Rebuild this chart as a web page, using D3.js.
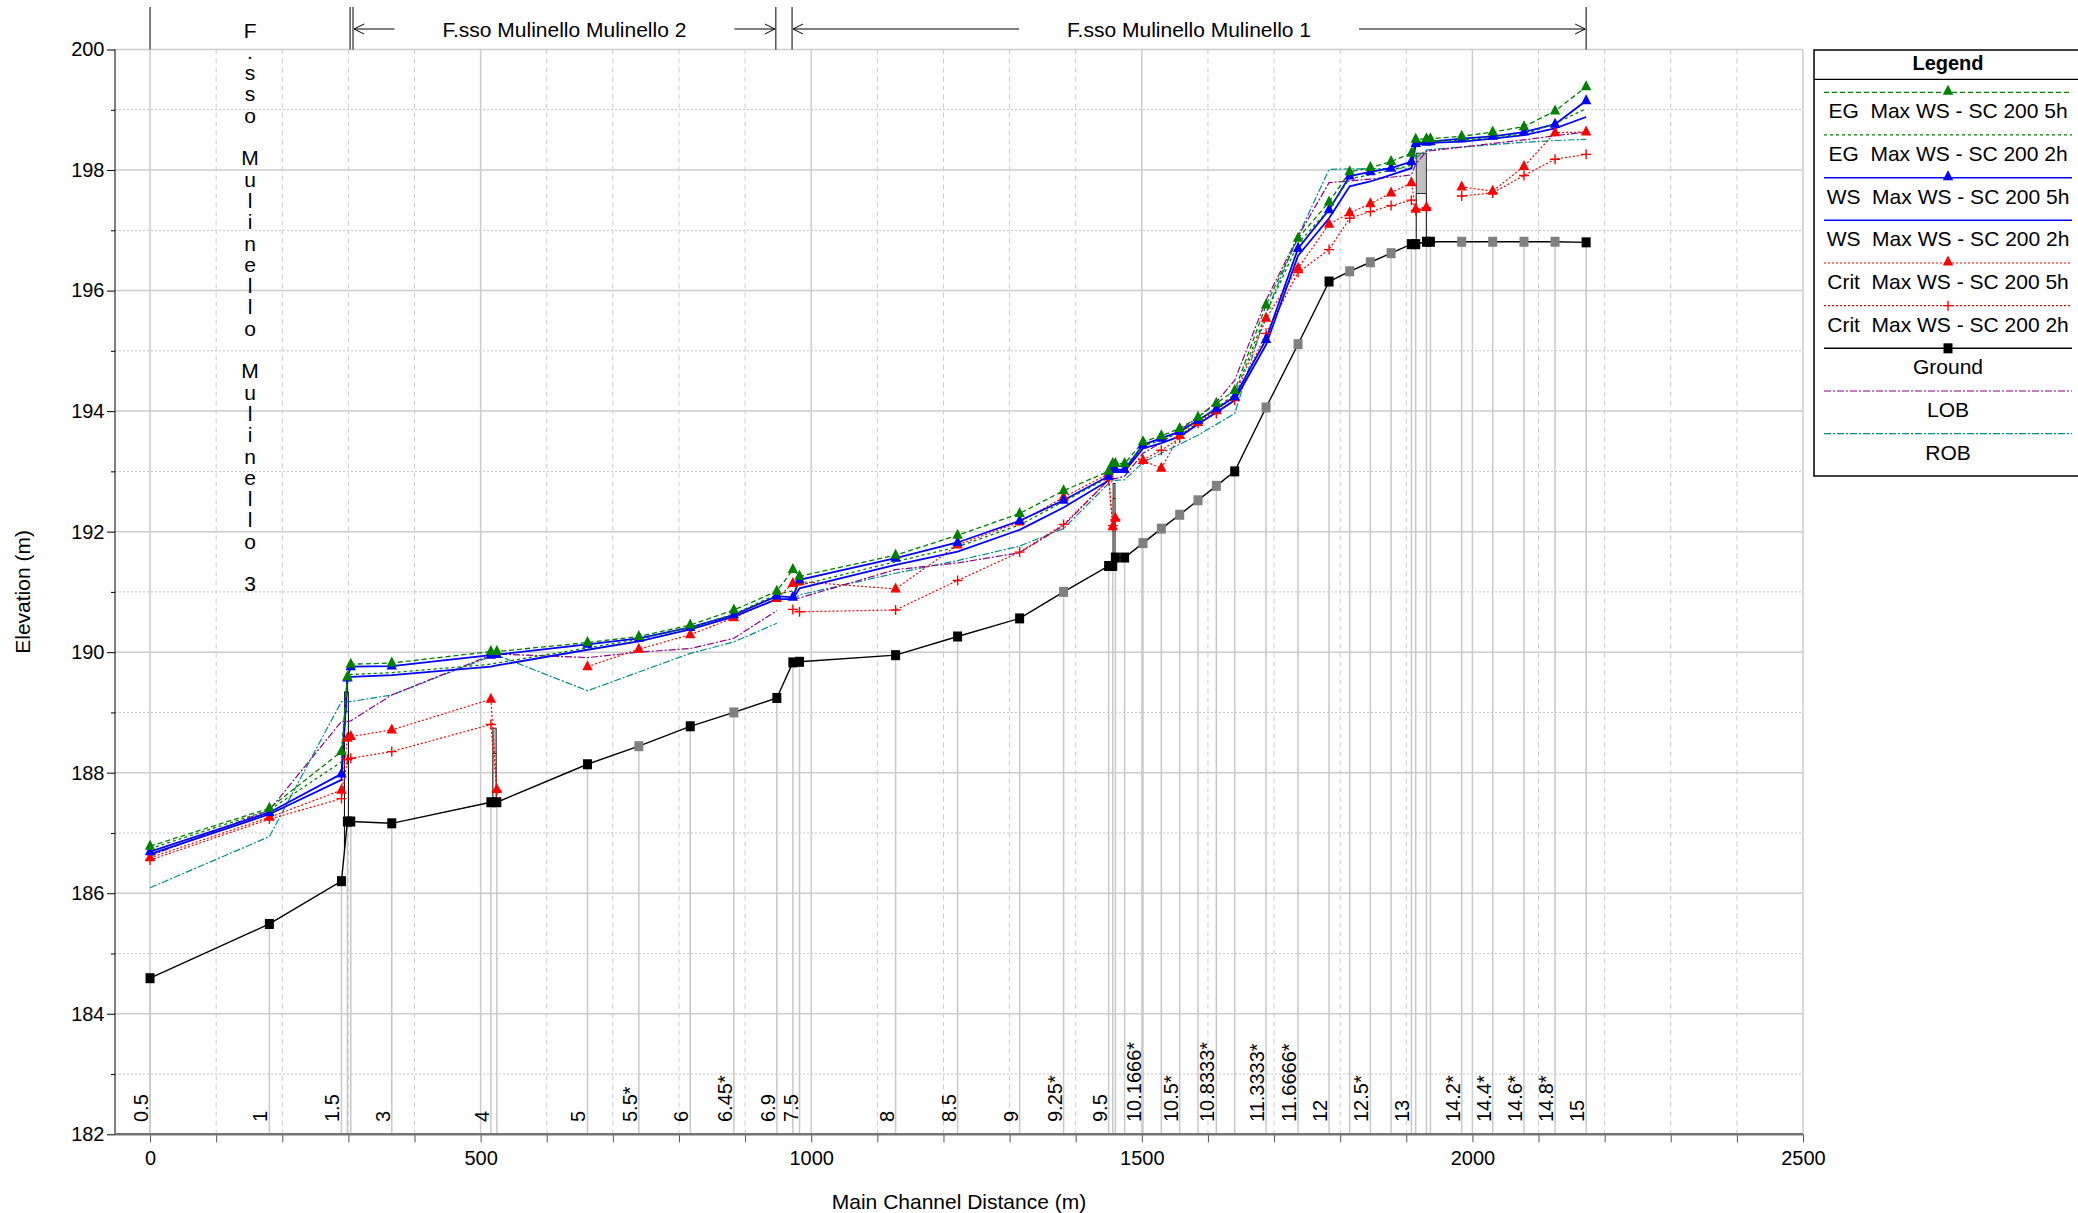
<!DOCTYPE html>
<html>
<head>
<meta charset="utf-8">
<script src="https://cdn.jsdelivr.net/npm/d3@7"></script>
<style>
  body { margin: 0; background: #fff; }
  text { font-family: "Liberation Sans", Arial, sans-serif; fill: #000; }
</style>
</head>
<body>
<div id="my_dataviz"></div>
<script>
// cross sections (main channel distance, m) and the ground profile
var stations = [0, 180.5, 289.5, 298.5, 303.6, 365.6, 515.5, 524.5, 661.6, 739.3,
  817, 883, 948, 972.2, 982.3, 1127.6, 1221.4, 1315.2, 1381.7, 1449.8,
  1456, 1460, 1474, 1501.8, 1529.5, 1557.3, 1585, 1612.7, 1640.5, 1687.9,
  1736.3, 1783.2, 1814.4, 1845.7, 1877, 1907.7, 1914.3, 1930.5, 1936.5, 1983.8,
  2030.7, 2078, 2125, 2172];
var ground = [184.59, 185.49, 186.20, 187.19, 187.19, 187.16, 187.51, 187.51, 188.14, 188.44,
  188.77, 189.00, 189.24, 189.83, 189.84, 189.95, 190.26, 190.56, 191.00, 191.43,
  191.43, 191.57, 191.57, 191.81, 192.05, 192.28, 192.52, 192.76, 193.00, 194.06,
  195.11, 196.15, 196.32, 196.47, 196.62, 196.77, 196.77, 196.81, 196.81, 196.81,
  196.81, 196.81, 196.81, 196.80];
// 1 = interpolated section (grey marker)
var interpolated = [0, 0, 0, 0, 0, 0, 0, 0, 0, 1,
  0, 1, 0, 0, 0, 0, 0, 0, 1, 0,
  0, 0, 0, 1, 1, 1, 1, 1, 0, 1,
  1, 0, 1, 1, 1, 0, 0, 0, 0, 1,
  1, 1, 1, 0];

// profiles
var eg5h = [186.78, 187.41, 188.35, 189.59, 189.80, 189.82, 190.01, 190.01, 190.16, 190.26,
  190.45, 190.70, 191.01, 191.37, 191.26, 191.61, 191.94, 192.30, 192.68, 193.00,
  193.13, 193.13, 193.13, 193.49, 193.59, 193.71, 193.90, 194.13, 194.34, 195.76,
  196.87, 197.47, 197.97, 198.04, 198.14, 198.28, 198.51, 198.52, 198.52, 198.56,
  198.63, 198.72, 198.98, 199.38];
var eg2h = [186.74, 187.38, 188.18, 189.57, 189.63, 189.66, 189.80, 189.82, 190.07, 190.21,
  190.41, 190.63, 190.96, 191.02, 191.11, 191.50, 191.75, 192.11, 192.50, 192.90,
  193.05, 193.08, 193.08, 193.42, 193.52, 193.64, 193.84, 194.05, 194.28, 195.62,
  196.78, 197.35, 197.86, 197.92, 198.00, 198.08, 198.47, 198.48, 198.48, 198.49,
  198.55, 198.59, 198.77, 199.02];
var ws5h = [186.69, 187.34, 187.98, 189.57, 189.76, 189.77, 189.95, 189.96, 190.13, 190.23,
  190.41, 190.62, 190.93, 190.91, 191.20, 191.56, 191.82, 192.18, 192.52, 192.92,
  193.03, 193.03, 193.03, 193.44, 193.55, 193.66, 193.85, 194.04, 194.24, 195.19,
  196.70, 197.34, 197.90, 197.97, 198.03, 198.14, 198.44, 198.46, 198.47, 198.52,
  198.56, 198.63, 198.76, 199.15];
var ws2h = [186.65, 187.31, 187.88, 189.55, 189.59, 189.62, 189.76, 189.78, 190.04, 190.18,
  190.38, 190.59, 190.88, 190.88, 191.06, 191.45, 191.67, 192.03, 192.40, 192.85,
  192.98, 193.00, 193.00, 193.38, 193.47, 193.58, 193.78, 193.98, 194.18, 195.10,
  196.58, 197.20, 197.73, 197.81, 197.92, 198.03, 198.42, 198.44, 198.45, 198.47,
  198.52, 198.58, 198.69, 198.88];
var crit5h = [186.59, 187.26, 187.71, 188.57, 188.60, 188.71, 189.22, 187.72, 189.76, 190.05,
  190.29, 190.57, 190.89, 191.14, 191.17, 191.05, 191.78, 192.16, 192.57, 192.96,
  192.08, 192.22, null, 193.18, 193.05, 193.60, 193.81, 194.02, 194.23, 195.54,
  196.37, 197.10, 197.29, 197.44, 197.62, 197.79, 197.35, 197.38, null, 197.72,
  197.65, 198.06, 198.62, 198.63];
var crit2h = [186.55, 187.23, 187.57, 188.22, 188.24, 188.35, 188.80, 187.70, null, null,
  null, null, null, 190.71, 190.67, 190.70, 191.19, 191.66, 192.12, 192.86,
  192.10, 192.20, null, 193.19, 193.35, 193.55, 193.80, 193.96, 194.18, 195.29,
  196.30, 196.68, 197.20, 197.31, 197.41, 197.50, 197.33, 197.37, null, 197.57,
  197.62, 197.91, 198.18, 198.26];
var lob = [186.62, 187.38, 188.85, 188.85, 188.86, 189.29, 189.95, 189.97, 189.91, 190.00,
  190.06, 190.23, 190.69, 190.88, 190.90, 191.37, 191.48, 191.65, 192.10, 192.86,
  192.88, 192.88, 192.92, 193.30, 193.48, 193.68, 193.90, 194.15, 194.51, 195.84,
  196.90, 197.79, 197.82, 197.85, 197.88, 197.92, 198.10, 198.31, 198.32, 198.38,
  198.44, 198.50, 198.57, 198.63];
var rob = [186.09, 186.94, 189.18, 189.18, 189.18, 189.29, 189.93, 189.95, 189.36, 189.67,
  189.98, 190.17, 190.48, 190.88, 190.95, 191.31, 191.52, 191.76, 192.05, 192.80,
  192.84, 192.85, 192.86, 193.15, 193.30, 193.45, 193.60, 193.78, 193.96, 195.63,
  196.90, 198.01, 198.02, 198.02, 198.03, 198.03, 198.20, 198.33, 198.34, 198.38,
  198.42, 198.46, 198.49, 198.51];

// river station labels at the bottom
var labelStations = [0, 180.5, 289.5, 365.6, 515.5, 661.6, 739.3, 817, 883, 948,
  982.3, 1127.6, 1221.4, 1315.2, 1381.7, 1449.8, 1501.8, 1557.3, 1612.7, 1687.9,
  1736.3, 1783.2, 1845.7, 1907.7, 1983.8, 2030.7, 2078, 2125, 2172];
var labelTexts = ["0.5", "1", "1.5", "3", "4", "5", "5.5*", "6", "6.45*", "6.9",
  "7.5", "8", "8.5", "9", "9.25*", "9.5", "10.1666*", "10.5*", "10.8333*", "11.3333*",
  "11.6666*", "12", "12.5*", "13", "14.2*", "14.4*", "14.6*", "14.8*", "15"];

// culverts: start, end, low chord, high chord
var structFrom = [294, 518.5, 1456.5, 1915];
var structTo = [300, 523.5, 1459.5, 1930.3];
var structLow = [189.01, 188.32, 192.55, 197.61];
var structHigh = [189.34, 188.74, 192.80, 198.28];

// reaches
var reachNames = ["F.sso Mulinello Mulinello 3", "F.sso Mulinello Mulinello 2", "F.sso Mulinello Mulinello 1"];
var reachFrom = [0, 307, 971];
var reachTo = [302.5, 946.5, 2172];

var yTicks = [182, 184, 186, 188, 190, 192, 194, 196, 198, 200];
var xTicks = [0, 500, 1000, 1500, 2000, 2500];

// set the dimensions of the graph
var W = 2078, H = 1213;
var pLeft = 115, pRight = 1803, pTop = 49.5, pBottom = 1134.3;

var svg = d3.select("#my_dataviz")
  .append("svg")
    .attr("width", W)
    .attr("height", H);

var x = d3.scaleLinear().domain([-53, 2500]).range([pLeft, pRight]);
var y = d3.scaleLinear().domain([182, 200]).range([pBottom, pTop]);
var groundAt = d3.scaleLinear().domain(stations).range(ground);

// grid
var grid = svg.append("g");
d3.range(182, 201).forEach(function (v) {
  grid.append("line")
    .attr("x1", pLeft).attr("x2", pRight)
    .attr("y1", y(v)).attr("y2", y(v))
    .attr("stroke", v % 2 === 0 ? "#cccccc" : "#c4c4c4")
    .attr("stroke-width", v % 2 === 0 ? 1.5 : 1)
    .attr("stroke-dasharray", v % 2 === 0 ? null : "2,2");
});
d3.range(0, 2501, 100).forEach(function (v) {
  grid.append("line")
    .attr("x1", x(v)).attr("x2", x(v))
    .attr("y1", pTop).attr("y2", pBottom)
    .attr("stroke", "#cccccc")
    .attr("stroke-width", v % 500 === 0 ? 1.5 : 1)
    .attr("stroke-dasharray", v % 500 === 0 ? null : "5,4");
});

// cross section lines below the ground
grid.selectAll(".xs")
  .data(stations)
  .enter()
  .append("line")
    .attr("x1", function (d) { return x(d); })
    .attr("x2", function (d) { return x(d); })
    .attr("y1", function (d, i) { return y(ground[i]); })
    .attr("y2", pBottom)
    .attr("stroke", "#c8c8c8")
    .attr("stroke-width", 1.5);

// station labels
svg.append("g")
  .selectAll("text")
  .data(labelStations)
  .enter()
  .append("text")
    .attr("transform", function (d) { return "translate(" + (x(d) - 2) + ",1122) rotate(-90)"; })
    .attr("font-size", 20)
    .text(function (d, i) { return labelTexts[i]; });

// Add Y axis
var yAxis = svg.append("g")
  .attr("transform", "translate(" + pLeft + ",0)")
  .call(d3.axisLeft(y).tickValues(yTicks).tickSize(8).tickPadding(2.5).tickFormat(d3.format("d")));
yAxis.select(".domain").remove();
yAxis.selectAll("text").attr("font-size", 20).attr("font-family", "Liberation Sans, Arial, sans-serif");
var yMinor = svg.append("g")
  .attr("transform", "translate(" + pLeft + ",0)")
  .call(d3.axisLeft(y).tickValues(d3.range(183, 200, 2)).tickSize(4).tickFormat(""));
yMinor.select(".domain").remove();
svg.append("line")
  .attr("x1", pLeft).attr("x2", pLeft)
  .attr("y1", pTop).attr("y2", pBottom)
  .attr("stroke", "#000");

// Add X axis
var xAxis = svg.append("g")
  .attr("transform", "translate(0," + pBottom + ")")
  .call(d3.axisBottom(x).tickValues(d3.range(0, 2501, 100)).tickSize(8).tickPadding(8.5)
    .tickFormat(function (d) { return xTicks.indexOf(d) >= 0 ? d : ""; }));
xAxis.select(".domain").remove();
xAxis.selectAll("line").attr("stroke", "#555");
xAxis.selectAll("text").attr("font-size", 20).attr("font-family", "Liberation Sans, Arial, sans-serif");
svg.append("line")
  .attr("x1", pLeft).attr("x2", pRight)
  .attr("y1", pBottom).attr("y2", pBottom)
  .attr("stroke", "#747474")
  .attr("stroke-width", 2.5);

// axis titles
svg.append("text")
  .attr("transform", "translate(22," + ((pTop + pBottom) / 2) + ") rotate(-90)")
  .attr("text-anchor", "middle")
  .attr("dominant-baseline", "central")
  .attr("font-size", 21)
  .text("Elevation (m)");
svg.append("text")
  .attr("x", (pLeft + pRight) / 2)
  .attr("y", 1201)
  .attr("text-anchor", "middle")
  .attr("dominant-baseline", "central")
  .attr("font-size", 21)
  .text("Main Channel Distance (m)");

// reach headers
var head = svg.append("g");
reachNames.forEach(function (name, r) {
  var x0 = x(reachFrom[r]), x1 = x(reachTo[r]);
  [x0, x1].forEach(function (xx) {
    head.append("line")
      .attr("x1", xx).attr("x2", xx)
      .attr("y1", 7).attr("y2", pTop)
      .attr("stroke", "#000");
  });
  var mid = (x0 + x1) / 2;
  if (x1 - x0 < 300) {
    // narrow reach: letters stacked vertically
    name.split("").forEach(function (ch, k) {
      head.append("text")
        .attr("x", mid)
        .attr("y", 30 + k * 21.3)
        .attr("text-anchor", "middle")
        .attr("dominant-baseline", "central")
        .attr("font-size", 21)
        .text(ch);
    });
    return;
  }
  var t = head.append("text")
    .attr("x", mid)
    .attr("y", 29)
    .attr("text-anchor", "middle")
    .attr("dominant-baseline", "central")
    .attr("font-size", 21)
    .text(name);
  var tw = t.node().getComputedTextLength();
  var a0 = mid - tw / 2 - 48, a1 = mid + tw / 2 + 48;
  head.append("path")
    .attr("d", "M" + (x0 + 1) + ",29H" + a0 + "M" + (x0 + 11) + ",24L" + (x0 + 1) + ",29L" + (x0 + 11) + ",34")
    .attr("fill", "none").attr("stroke", "#000");
  head.append("path")
    .attr("d", "M" + a1 + ",29H" + (x1 - 1) + "M" + (x1 - 11) + ",24L" + (x1 - 1) + ",29L" + (x1 - 11) + ",34")
    .attr("fill", "none").attr("stroke", "#000");
});

// series styles
var series = [
  {name: "ROB", values: rob, color: "#008b8b", dash: "7,2,2,2", width: 1.2, marker: null, cuts: [972.2]},
  {name: "LOB", values: lob, color: "#8b008b", dash: "7,2,2,2", width: 1.2, marker: null, cuts: [972.2]},
  {name: "Crit  Max WS - SC 200 2h", values: crit2h, color: "#ff0000", dash: "2,2", width: 1.2, marker: "plus", cuts: []},
  {name: "Crit  Max WS - SC 200 5h", values: crit5h, color: "#ff0000", dash: "2,2", width: 1.2, marker: "tri", cuts: [661.6]},
  {name: "WS  Max WS - SC 200 2h", values: ws2h, color: "#0000ff", dash: null, width: 1.8, marker: null, cuts: []},
  {name: "WS  Max WS - SC 200 5h", values: ws5h, color: "#0000ff", dash: null, width: 1.8, marker: "tri", cuts: []},
  {name: "EG  Max WS - SC 200 2h", values: eg2h, color: "#008000", dash: "3,3", width: 1.3, marker: null, cuts: []},
  {name: "EG  Max WS - SC 200 5h", values: eg5h, color: "#008000", dash: "5,3", width: 1.3, marker: "tri", cuts: []}
];

function segments(vals, cuts) {
  var segs = [], cur = [];
  stations.forEach(function (s, i) {
    if (cuts.indexOf(s) >= 0 && cur.length) { segs.push(cur); cur = []; }
    if (vals[i] == null) { if (cur.length) segs.push(cur); cur = []; return; }
    cur.push([s, vals[i]]);
  });
  if (cur.length) segs.push(cur);
  return segs;
}

var line = d3.line()
  .x(function (d) { return x(d[0]); })
  .y(function (d) { return y(d[1]); });

var triPath = "M0,-6.5L5.2,3.5L-5.2,3.5Z";
var plusPath = "M-5,0H5M0,-5V5";

function drawMarker(g, kind, color, px, py) {
  if (kind === "tri") {
    g.append("path").attr("d", triPath).attr("transform", "translate(" + px + "," + py + ")").attr("fill", color);
  } else if (kind === "plus") {
    g.append("path").attr("d", plusPath).attr("transform", "translate(" + px + "," + py + ")")
      .attr("fill", "none").attr("stroke", color).attr("stroke-width", 1.4);
  } else if (kind === "square") {
    g.append("rect").attr("x", px - 4.5).attr("y", py - 5).attr("width", 9).attr("height", 10).attr("fill", color);
  }
}

// ground line
var plot = svg.append("g");
plot.append("path")
  .attr("d", line(stations.map(function (s, i) { return [s, ground[i]]; })))
  .attr("fill", "none").attr("stroke", "#000").attr("stroke-width", 1.4);

// culverts
structFrom.forEach(function (s, k) {
  var xa = x(s), xb = x(structTo[k]);
  plot.append("rect")
    .attr("x", xa).attr("width", xb - xa)
    .attr("y", y(structHigh[k])).attr("height", y(structLow[k]) - y(structHigh[k]))
    .attr("fill", "#c0c0c0").attr("stroke", "#000").attr("stroke-width", 0.8);
  [s, structTo[k]].forEach(function (sx) {
    plot.append("line")
      .attr("x1", x(sx)).attr("x2", x(sx))
      .attr("y1", y(groundAt(sx))).attr("y2", y(structLow[k]))
      .attr("stroke", "#000").attr("stroke-width", 1);
  });
});

// profiles
series.forEach(function (sr) {
  segments(sr.values, sr.cuts).forEach(function (seg) {
    plot.append("path")
      .attr("d", line(seg))
      .attr("fill", "none")
      .attr("stroke", sr.color)
      .attr("stroke-width", sr.width)
      .attr("stroke-dasharray", sr.dash);
  });
});
series.forEach(function (sr) {
  if (!sr.marker) return;
  sr.values.forEach(function (v, i) {
    if (v == null) return;
    drawMarker(plot, sr.marker, sr.color, x(stations[i]), y(v));
  });
});
stations.forEach(function (s, i) {
  drawMarker(plot, "square", interpolated[i] ? "#808080" : "#000", x(s), y(ground[i]));
});

// Legend
var lg = svg.append("g");
lg.append("rect")
  .attr("x", 1814).attr("y", 50).attr("width", 268).attr("height", 426)
  .attr("fill", "#fff").attr("stroke", "#000").attr("stroke-width", 1.5);
lg.append("line")
  .attr("x1", 1814).attr("x2", 2082).attr("y1", 79.3).attr("y2", 79.3)
  .attr("stroke", "#000").attr("stroke-width", 1.2);
lg.append("text")
  .attr("x", 1948).attr("y", 63)
  .attr("text-anchor", "middle").attr("dominant-baseline", "central")
  .attr("font-size", 20).attr("font-weight", "bold")
  .text("Legend");

var legendItems = series.slice().reverse().concat([
  {name: "Ground", color: "#000", dash: null, width: 1.4, marker: "square"}
]);
// LOB and ROB go after Ground
legendItems = legendItems.filter(function (d) { return d.name !== "LOB" && d.name !== "ROB"; })
  .concat(series.filter(function (d) { return d.name === "LOB"; }), series.filter(function (d) { return d.name === "ROB"; }));

legendItems.forEach(function (d, i) {
  var ly = 92.3 + i * 42.67;
  lg.append("line")
    .attr("x1", 1824).attr("x2", 2072)
    .attr("y1", ly).attr("y2", ly)
    .attr("stroke", d.color)
    .attr("stroke-width", Math.min(d.width, 1.5))
    .attr("stroke-dasharray", d.dash);
  if (d.marker) drawMarker(lg, d.marker, d.color, 1948, d.marker === "tri" ? ly - 1 : ly);
  lg.append("text")
    .attr("x", 1948).attr("y", ly + 18.5)
    .attr("text-anchor", "middle").attr("dominant-baseline", "central")
    .attr("font-size", 21)
    .style("white-space", "pre")
    .text(d.name);
});
</script>
</body>
</html>
